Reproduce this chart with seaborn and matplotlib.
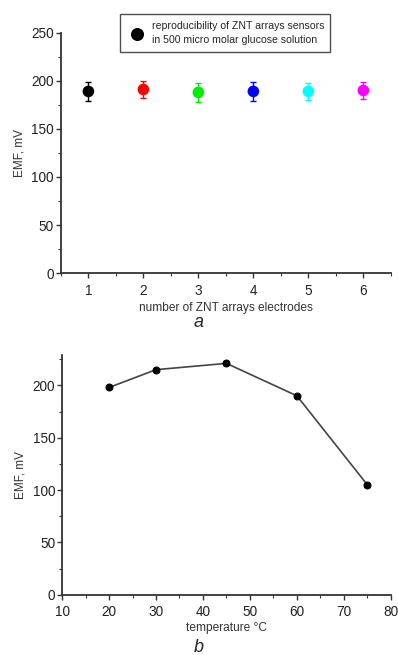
import numpy as np
import matplotlib
matplotlib.use("Agg")
import matplotlib.pyplot as plt
import seaborn as sns
import pandas as pd
from matplotlib.ticker import AutoMinorLocator, MultipleLocator

sns.set_style("ticks")
plt.rcParams['font.family'] = ['Liberation Sans', 'DejaVu Sans']

# panel a data
electrodes = [1, 2, 3, 4, 5, 6]
emf_a = [189, 191, 188, 189, 189, 190]
err_a = [10, 9, 10, 10, 9, 9]
colors_a = ["#000000", "#ff0000", "#00ee00", "#0000ff", "#00ffff", "#ff00ff"]

# panel b data
temperature = [20, 30, 45, 60, 75]
emf_b = [198, 215, 221, 190, 105]

fig = plt.figure(figsize=(3.98, 6.55), dpi=100)
axa = fig.add_axes([0.153, 0.583, 0.829, 0.367])
axb = fig.add_axes([0.156, 0.092, 0.826, 0.366])

dfa = pd.DataFrame({"n": electrodes, "emf": emf_a, "c": [str(i) for i in electrodes]})
for xi, yi, ei, ci in zip(electrodes, emf_a, err_a, colors_a):
    axa.errorbar(xi, yi, yerr=ei, fmt="none", ecolor=ci,
                 elinewidth=1, capsize=2.5, capthick=1, zorder=2)
sns.scatterplot(data=dfa, x="n", y="emf", hue="c", palette=colors_a, s=70,
                linewidth=0, ax=axa, legend=False, zorder=3)
axa.set_xlim(0.5, 6.5)
axa.set_ylim(0, 250)
axa.xaxis.set_major_locator(MultipleLocator(1))
axa.xaxis.set_minor_locator(AutoMinorLocator(2))
axa.yaxis.set_major_locator(MultipleLocator(50))
axa.yaxis.set_minor_locator(AutoMinorLocator(2))
axa.set_xlabel("number of ZNT arrays electrodes", fontsize=8.6, color="#333333", labelpad=3)
axa.set_ylabel("EMF, mV", fontsize=8.5, color="#333333", labelpad=4)

# legend box
h = axa.scatter([], [], s=70, color="black")
leg = fig.legend([h], ["reproducibility of ZNT arrays sensors\nin 500 micro molar glucose solution"],
                 loc="upper left", bbox_to_anchor=(0.288, 0.986), fontsize=7.6,
                 frameon=True, fancybox=False, edgecolor="#222222",
                 handletextpad=0.4, borderpad=0.6, labelspacing=0.3)
leg.get_frame().set_linewidth(1.0)
leg.get_texts()[0].set_linespacing(1.55)

df_b = pd.DataFrame({"t": temperature, "emf": emf_b})
sns.lineplot(data=df_b, x="t", y="emf", marker="o", color="#444444", linewidth=1.2,
             markersize=5, markerfacecolor="black", markeredgecolor="black", ax=axb)
axb.set_xlim(10, 80)
axb.set_ylim(0, 229)
axb.xaxis.set_major_locator(MultipleLocator(10))
axb.xaxis.set_minor_locator(AutoMinorLocator(2))
axb.yaxis.set_major_locator(MultipleLocator(50))
axb.yaxis.set_minor_locator(AutoMinorLocator(2))
axb.set_xlabel("temperature \u00b0C", fontsize=8.6, color="#333333", labelpad=2)
axb.set_ylabel("EMF, mV", fontsize=8.5, color="#333333", labelpad=4)

for ax in (axa, axb):
    sns.despine(ax=ax)
    for s in ("left", "bottom"):
        ax.spines[s].set_linewidth(1.3)
        ax.spines[s].set_color("#333333")
    ax.tick_params(which="major", length=3.5, width=1, labelsize=9.8, colors="#333333", pad=1.5)
    ax.tick_params(which="minor", length=2, width=0.8, colors="#333333")
    ax.tick_params(labelcolor="#222222")
axa.tick_params(axis="x", which="major", pad=4)
axb.tick_params(axis="x", which="major", pad=4)

fig.text(0.5, 0.508, "a", ha="center", va="center", fontsize=13, style="italic")
fig.text(0.5, 0.011, "b", ha="center", va="center", fontsize=13, style="italic")

fig.savefig("out.png", dpi=100, facecolor="white")
